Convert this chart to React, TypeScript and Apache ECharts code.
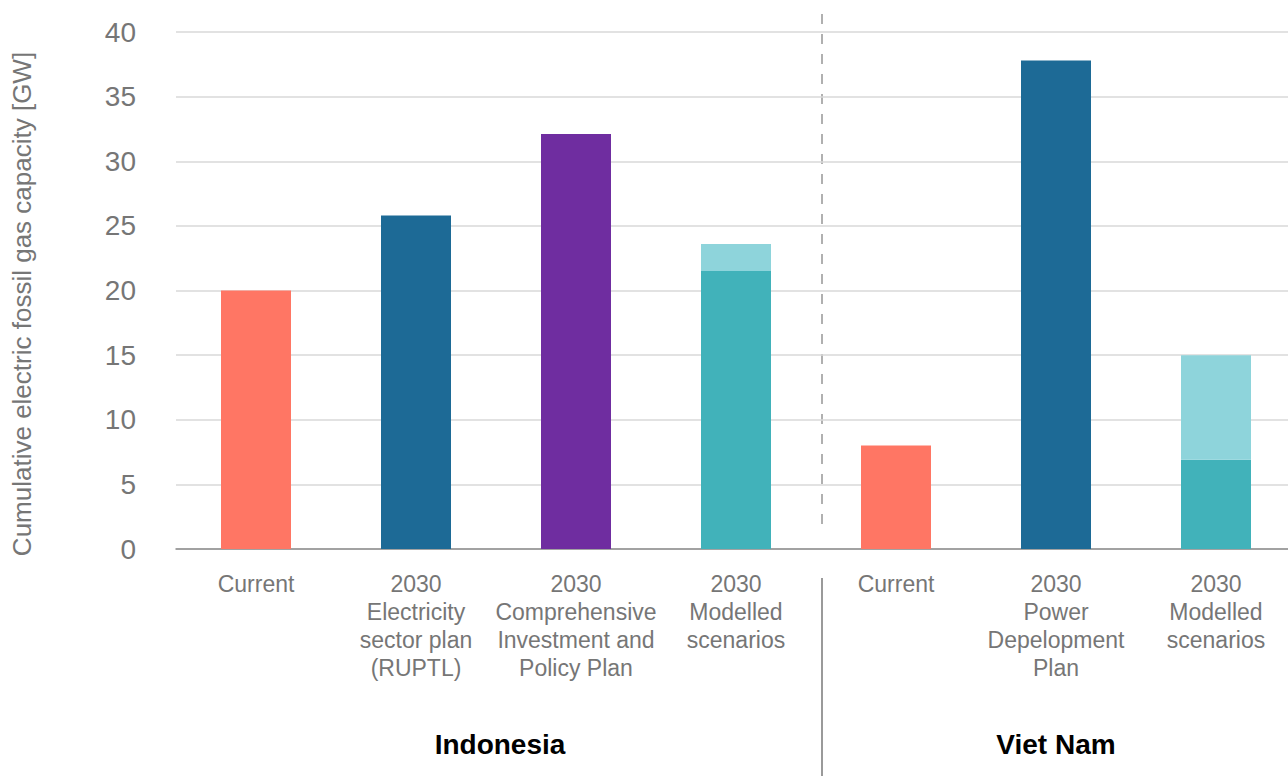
import React, { useEffect, useRef } from "react";
import * as echarts from "echarts";

const categories = [
  "Current",
  "2030\nElectricity\nsector plan\n(RUPTL)",
  "2030\nComprehensive\nInvestment and\nPolicy Plan",
  "2030\nModelled\nscenarios",
  "Current",
  "2030\nPower\nDepelopment\nPlan",
  "2030\nModelled\nscenarios",
];
const baseValues = [20, 25.8, 32.1, 21.5, 8, 37.8, 6.9];
const extraValues = [null, null, null, 2.1, null, null, 8.1];
const baseColors = ["#FF7664", "#1D6A96", "#6F2DA0", "#41B2BA", "#FF7664", "#1D6A96", "#41B2BA"];
const extraColor = "#8ED4DB";
const groups = ["Indonesia", "Viet Nam"];
const yTitle = "Cumulative electric fossil gas capacity [GW]";
const yTicks = { min: 0, max: 40, interval: 5 };

export default function App() {
  const ref = useRef<HTMLDivElement>(null);
  useEffect(() => {
    if (!ref.current) return;
    const chart = echarts.init(ref.current, undefined, { renderer: "svg" });
    const font = "'Liberation Sans', Arial, sans-serif";
    chart.setOption({
      animation: false,
      grid: { left: 176, right: 0, top: 32, bottom: 227, outerBoundsMode: "none", containLabel: false },
      xAxis: {
        type: "category",
        data: categories,
        axisLine: { lineStyle: { color: "#8c8c8c", width: 1.5 } },
        axisTick: { show: false },
        axisLabel: {
          interval: 0,
          margin: 21,
          color: "#767676",
          fontSize: 23,
          lineHeight: 28,
          fontFamily: font,
          align: "center",
          verticalAlign: "top",
        },
      },
      yAxis: {
        type: "value",
        min: yTicks.min,
        max: yTicks.max,
        interval: yTicks.interval,
        axisLine: { show: false },
        axisTick: { show: false },
        splitLine: { lineStyle: { color: "#d9d9d9", width: 1.5 } },
        axisLabel: { color: "#767676", fontSize: 28, fontFamily: font, margin: 40 },
      },
      series: [
        {
          type: "bar",
          stack: "a",
          barWidth: 70,
          data: baseValues.map((v, i) => ({ value: v, itemStyle: { color: baseColors[i] } })),
        },
        {
          type: "bar",
          stack: "a",
          barWidth: 70,
          data: extraValues,
          itemStyle: { color: extraColor },
        },
      ],
      graphic: [
        {
          type: "text",
          x: 22,
          y: 304,
          rotation: Math.PI / 2,
          style: {
            text: yTitle,
            fill: "#767676",
            font: `26px ${font}`,
            align: "center",
            verticalAlign: "middle",
          },
        },
        {
          type: "line",
          shape: { x1: 822, y1: 14, x2: 822, y2: 531 },
          style: { stroke: "#b0b0b0", lineWidth: 2, lineDash: [10, 10] },
        },
        {
          type: "line",
          shape: { x1: 822, y1: 578, x2: 822, y2: 776 },
          style: { stroke: "#9a9a9a", lineWidth: 2 },
        },
        {
          type: "text",
          x: 500,
          y: 744,
          style: {
            text: groups[0],
            fill: "#000",
            font: `bold 28px ${font}`,
            align: "center",
            verticalAlign: "middle",
          },
        },
        {
          type: "text",
          x: 1056,
          y: 744,
          style: {
            text: groups[1],
            fill: "#000",
            font: `bold 28px ${font}`,
            align: "center",
            verticalAlign: "middle",
          },
        },
      ],
    });
    return () => chart.dispose();
  }, []);
  return (
    <div style={{ position: "fixed", left: 0, top: 0, width: 1288, height: 776, overflow: "hidden", background: "#fff" }}>
      <div ref={ref} style={{ position: "absolute", left: 0, top: 0, width: 1296, height: 776 }} />
    </div>
  );
}
